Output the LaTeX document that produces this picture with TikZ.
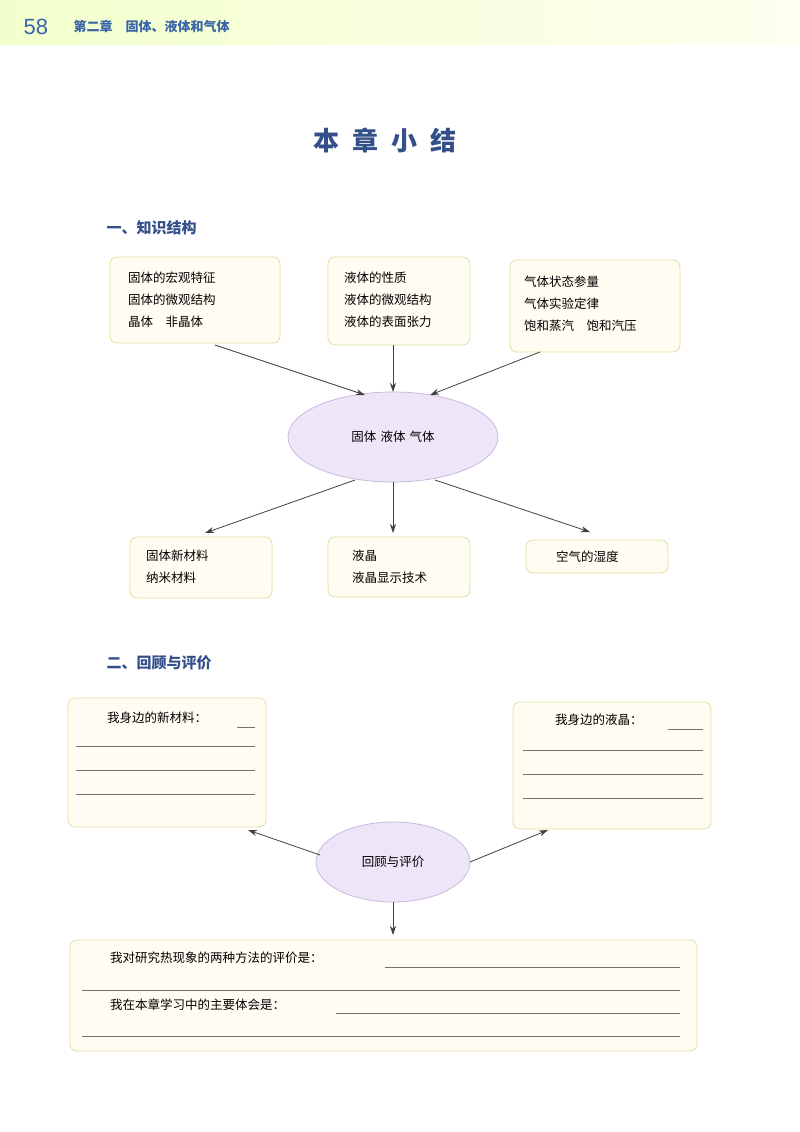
\documentclass[tikz,border=0pt]{standalone}
\usepackage{fontspec}
\setmainfont{Noto Sans CJK SC}
\newfontfamily\numfont{Liberation Sans}
\usetikzlibrary{arrows.meta,shapes.geometric}
\definecolor{hdr}{HTML}{3A64A8}
\definecolor{ttl}{HTML}{34508A}
\definecolor{boxfill}{HTML}{FFFDF2}
\definecolor{boxline}{HTML}{E2DDA0}
\definecolor{elfill}{HTML}{EEE6F8}
\definecolor{elline}{HTML}{C9B9DF}
\tikzset{
 kbox/.style={draw=boxline,fill=boxfill,rounded corners=7pt,line width=0.8pt},
 kell/.style={draw=elline,fill=elfill,line width=0.8pt},
 txt/.style={font=\fontsize{12.5}{22}\selectfont,align=left,anchor=west,inner sep=0},
 arr/.style={-{Stealth[length=9pt,width=6pt]},draw=black!75,line width=0.8pt},
 ruleln/.style={draw=black!55,line width=0.6pt}
}
\begin{document}
\begin{tikzpicture}[x=1pt,y=-1pt]
\useasboundingbox (0,0) rectangle (800,1132);
\shade[left color=green!25!yellow!20,right color=green!8!yellow!6] (0,0) rectangle (800,45);
\node[anchor=west,text=hdr,font=\numfont\fontsize{22}{22}\selectfont] (pg) at (20,27) {58};
\node[anchor=west,text=hdr,font=\fontsize{13}{13}\selectfont\bfseries] (ch) at (70,27) {第二章\quad 固体、液体和气体};
\node[text=ttl,font=\fontsize{26}{26}\selectfont\bfseries] (title) at (385,140) {本\,\,\,章\,\,\,小\,\,\,结};
\node[anchor=west,text=ttl,font=\fontsize{15}{15}\selectfont\bfseries] (s1) at (103,228) {一、知识结构};
% top boxes
\draw[kbox] (110,257) rectangle (280,343);
\node[txt] (a) at (128,300) {固体的宏观特征\\固体的微观结构\\晶体\quad 非晶体};
\draw[kbox] (328,257) rectangle (470,345);
\node[txt] (b) at (344,300) {液体的性质\\液体的微观结构\\液体的表面张力};
\draw[kbox] (510,260) rectangle (680,352);
\node[txt] (c) at (524,304) {气体状态参量\\气体实验定律\\饱和蒸汽\quad 饱和汽压};
\node[kell,ellipse,minimum width=210pt,minimum height=90pt,font=\fontsize{12.5}{12.5}\selectfont] (e1) at (393,437) {固体\,\,液体\,\,气体};
\coordinate (pa) at (215,345);\coordinate (pb) at (393,345);\coordinate (pc) at (540,352);
\coordinate (qa) at (365,395);\coordinate (qb) at (393,392);\coordinate (qc) at (430,395);
\draw[arr] (pa)--(qa); \draw[arr] (pb)--(qb); \draw[arr] (pc)--(qc);
% bottom boxes
\draw[kbox] (130,537) rectangle (272,598);
\node[txt] (d) at (146,567) {固体新材料\\纳米材料};
\draw[kbox] (328,537) rectangle (470,597);
\node[txt] (e) at (352,567) {液晶\\液晶显示技术};
\draw[kbox] (526,540) rectangle (668,573);
\node[txt] (f) at (556,557) {空气的湿度};
\coordinate (ra) at (355,480);\coordinate (rb) at (393,482);\coordinate (rc) at (435,480);
\coordinate (ta) at (205,533);\coordinate (tb) at (393,533);\coordinate (tc) at (590,532);
\draw[arr] (ra)--(ta); \draw[arr] (rb)--(tb); \draw[arr] (rc)--(tc);
% section 2
\node[anchor=west,text=ttl,font=\fontsize{15}{15}\selectfont\bfseries] (s2) at (103,663) {二、回顾与评价};
\draw[kbox] (68,698) rectangle (266,827);
\node[txt] (g) at (107,718) {我身边的新材料：};
\draw[ruleln] (237,727)--(255,727);
\foreach \y in {746,770,794} \draw[ruleln] (76,\y)--(255,\y);
\draw[kbox] (513,702) rectangle (711,829);
\node[txt] (h) at (555,720) {我身边的液晶：};
\draw[ruleln] (668,729)--(703,729);
\foreach \y in {750,774,798} \draw[ruleln] (523,\y)--(703,\y);
\node[kell,ellipse,minimum width=154pt,minimum height=80pt,font=\fontsize{12.5}{12.5}\selectfont] (e2) at (393,862) {回顾与评价};
\coordinate (u1) at (320,855);\coordinate (v1) at (248,830);
\coordinate (u2) at (470,862);\coordinate (v2) at (548,830);
\coordinate (u3) at (393,902);\coordinate (v3) at (393,935);
\draw[arr] (u1)--(v1); \draw[arr] (u2)--(v2); \draw[arr] (u3)--(v3);
\draw[kbox] (70,940) rectangle (697,1051);
\node[txt] (i1) at (110,958) {我对研究热现象的两种方法的评价是：};
\draw[ruleln] (385,967)--(680,967);
\draw[ruleln] (82,990)--(680,990);
\node[txt] (i2) at (110,1005) {我在本章学习中的主要体会是：};
\draw[ruleln] (336,1013)--(680,1013);
\draw[ruleln] (82,1036)--(680,1036);
\end{tikzpicture}
\end{document}
